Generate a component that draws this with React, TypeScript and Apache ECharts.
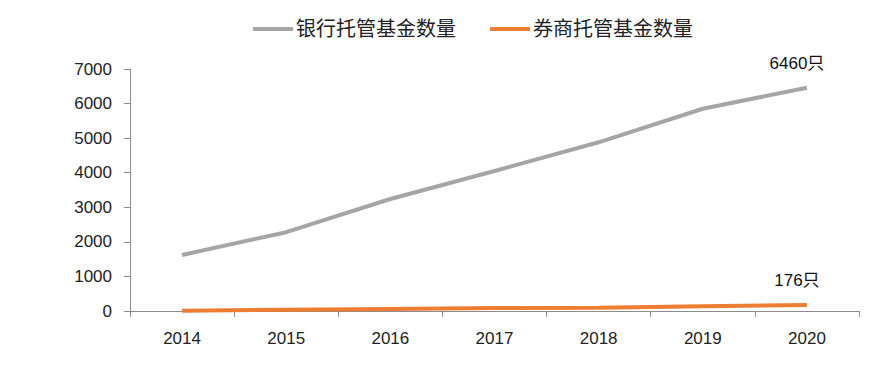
import React, { useEffect, useRef } from "react";
import * as echarts from "echarts";

const categories = ["2014", "2015", "2016", "2017", "2018", "2019", "2020"];
const bankFunds = [1620, 2280, 3240, 4050, 4880, 5850, 6460];
const brokerFunds = [10, 35, 60, 85, 95, 140, 176];
const seriesNames = ["银行托管基金数量", "券商托管基金数量"];
const unit = "只";

export default function App() {
  const ref = useRef<HTMLDivElement>(null);
  useEffect(() => {
    document.body.style.margin = "0";
    const chart = echarts.init(ref.current!, null, { renderer: "svg" });
    const font = "'Liberation Sans', 'Noto Sans CJK SC', sans-serif";
    const withEndLabel = (values: number[]) =>
      values.map((v, i) =>
        i === values.length - 1
          ? {
              value: v,
              label: {
                show: true,
                position: "top",
                distance: 16,
                offset: [-10, 0],
                color: "#111",
                fontSize: 17,
                fontFamily: font,
                formatter: (p: any) => p.value + unit,
              },
            }
          : v
      );
    chart.setOption({
      animation: false,
      textStyle: { fontFamily: font },
      legend: {
        top: 14,
        left: 248,
        itemWidth: 40,
        itemHeight: 4,
        itemGap: 34,
        icon: "rect",
        textStyle: { fontSize: 20, color: "#222", fontFamily: font, padding: [0, 0, 0, -2] },
        data: seriesNames,
      },
      grid: { left: 130, right: 32, top: 69, bottom: 63 },
      xAxis: {
        type: "category",
        data: categories,
        boundaryGap: true,
        axisLine: { lineStyle: { color: "#8c8c8c" } },
        axisTick: { show: true, alignWithLabel: false, length: 6, lineStyle: { color: "#8c8c8c" } },
        axisLabel: { color: "#222", fontSize: 17, margin: 19 },
      },
      yAxis: {
        type: "value",
        min: 0,
        max: 7000,
        interval: 1000,
        splitLine: { show: false },
        axisLine: { show: true, lineStyle: { color: "#8c8c8c" } },
        axisTick: { show: true, length: 6, lineStyle: { color: "#8c8c8c" } },
        axisLabel: { color: "#222", fontSize: 17, margin: 18, formatter: (v: number) => String(v) },
      },
      series: [
        {
          name: seriesNames[0],
          type: "line",
          data: withEndLabel(bankFunds),
          symbol: "circle",
          symbolSize: 0.1,
          showSymbol: true,
          lineStyle: { color: "#a5a5a5", width: 4 },
          itemStyle: { color: "#a5a5a5" },
        },
        {
          name: seriesNames[1],
          type: "line",
          data: withEndLabel(brokerFunds),
          symbol: "circle",
          symbolSize: 0.1,
          showSymbol: true,
          lineStyle: { color: "#ed7d31", width: 4 },
          itemStyle: { color: "#ed7d31" },
        },
      ],
    });
    return () => chart.dispose();
  }, []);
  return <div ref={ref} style={{ width: 891, height: 374 }} />;
}
